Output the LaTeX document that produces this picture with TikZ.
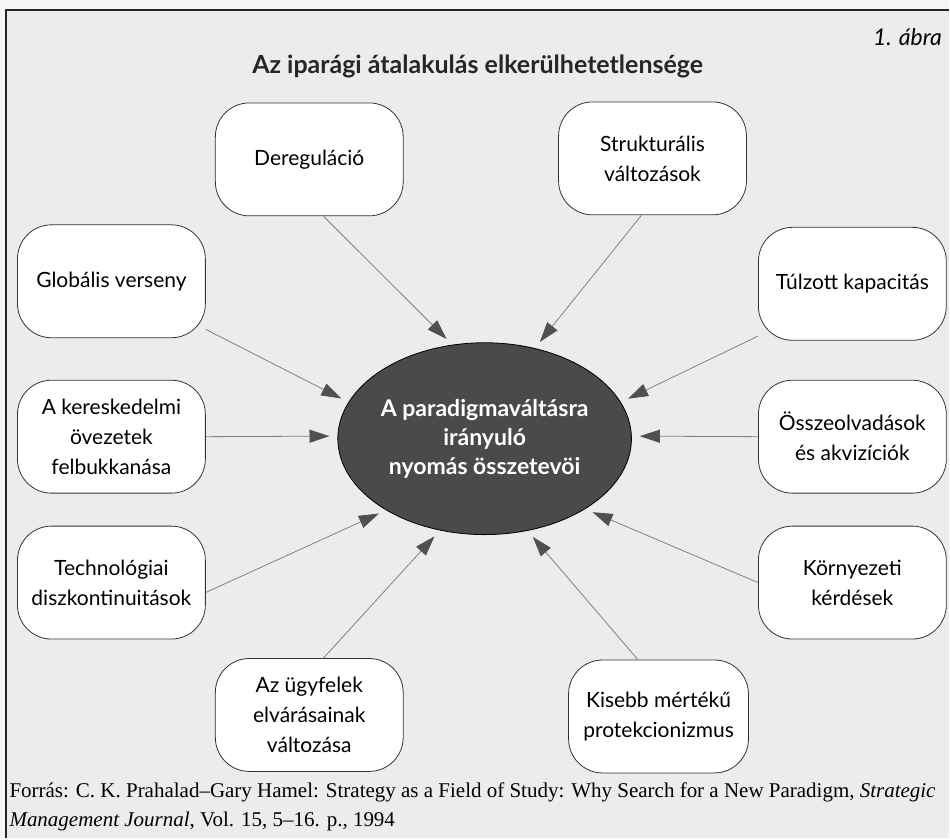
\documentclass[tikz,border=0pt]{standalone}
\usepackage{fontspec}
\setmainfont{Liberation Serif}
\newfontfamily\boxfont{Lato}
\usetikzlibrary{positioning,shapes.geometric,arrows.meta,calc}
\definecolor{paper}{RGB}{236,236,236}
\definecolor{corefill}{RGB}{74,74,74}
\definecolor{arrline}{RGB}{130,130,130}
\definecolor{arrtip}{RGB}{80,80,80}

\begin{document}
\begin{tikzpicture}[
  x=1pt, y=-1pt,
  factor/.style={draw=black!80, line width=0.8pt, fill=white, rounded corners=34pt,
                 minimum width=188pt, minimum height=113pt, inner sep=0pt, align=center,
                 font=\boxfont\fontsize{21}{30}\selectfont},
  core/.style={ellipse, draw=black, line width=0.8pt, fill=corefill, text=white,
               minimum width=264pt, minimum height=192pt, inner sep=0pt, align=center,
               font=\boxfont\bfseries\fontsize{23}{29}\selectfont},
  push/.style={draw=arrline, line width=0.8pt, shorten >=8pt,
               -{Triangle[length=20pt,width=13pt,color=arrtip]}}
]
  % page and frame
  \fill[white!96!black] (0,0) rectangle (950,839);
  \fill[paper] (6,10) rectangle (950,839);
  \draw[line width=1.4pt, black!85] (950,10) -- (6,10) -- (6,839);
  \useasboundingbox (0,0) rectangle (950,839);

  \node[anchor=east, font=\boxfont\itshape\fontsize{23}{26}\selectfont] (abra) at (946,37) {1. ábra};
  \node[font=\boxfont\bfseries\fontsize{25}{28}\selectfont, text=black!85] (title) at (478,67)
    {Az iparági átalakulás elkerülhetetlensége};

  % centre
  \node[core] (ell) at (485,439) {A paradigmaváltásra\\ irányuló\\ nyomás összetevöi};

  % factors
  \node[factor] (dereg)  at (309.5,159.5) {Dereguláció};
  \node[factor] (strukt) at (653,158.5)   {Strukturális\\ változások};
  \node[factor] (glob)   at (111.5,281.5) {Globális verseny};
  \node[factor] (tulz)   at (853,284)     {Túlzott kapacitás};
  \node[factor] (kers)   at (111.5,437)   {A kereskedelmi\\ övezetek\\ felbukkanása};
  \node[factor] (ossz)   at (853,437)     {Összeolvadások\\ és akvizíciók};
  \node[factor] (tech)   at (111.5,583)   {Technológiai\\ diszkontinuitások};
  \node[factor] (korny)  at (853,583)     {Környezeti\\ kérdések};
  \node[factor] (ugy)    at (309.5,715.5) {Az ügyfelek\\ elvárásainak\\ változása};
  \node[factor, minimum width=180pt] (kis) at (659,717) {Kisebb mértékű\\ protekcionizmus};

  % pressures
  \draw[push] (dereg.-76)  -- (ell.109);
  \draw[push] (glob.-27)   -- (ell.165);
  \draw[push] (kers.east)  -- (ell.179);
  \draw[push] (tech.-6)    -- (ell.216);
  \draw[push] (ugy.76)     -- (ell.244);
  \draw[push] (strukt.-101) -- (ell.61);
  \draw[push] (tulz.-151)  -- (ell.15);
  \draw[push] (ossz.west)  -- (ell.1);
  \draw[push] (korny.west) -- (ell.-35);
  \draw[push] (kis.110)    -- (ell.-65);

  % source
  \node[anchor=north west, align=left, font=\fontsize{21}{29}\selectfont] (src) at (6,780)
    {Forrás: C. K. Prahalad–Gary Hamel: Strategy as a Field of Study: Why Search for a New Paradigm, \textit{Strategic}\\
     \textit{Management Journal}, Vol. 15, 5–16. p., 1994};
\end{tikzpicture}
\end{document}
